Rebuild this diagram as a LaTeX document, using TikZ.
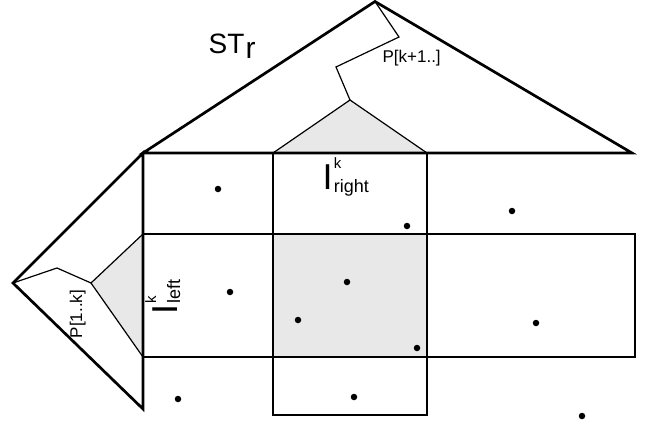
\documentclass[tikz,border=0pt]{standalone}
\usepackage{fontspec}
\setmainfont{Liberation Sans}
\usetikzlibrary{calc, positioning}
\definecolor{light gray}{HTML}{E8E8E8}

\begin{document}
\begin{tikzpicture}[x=1pt, y=-1pt, line width=1.2pt,
    bold/.style={line width=2.7pt, line join=miter},
    dot/.style={circle, fill=black, inner sep=0pt, minimum size=6.5pt},
    lab/.style={inner sep=0pt, anchor=base west}]
    \useasboundingbox (0,0) rectangle (649,423);
    \coordinate (apex) at (375,1.5);
    \coordinate (tl) at (143,153);
    \coordinate (tr) at (632,153);
    \coordinate (lapex) at (13,283);
    \coordinate (bl) at (143,409);
    \coordinate (qtop) at (350,100);
    \coordinate (qleft) at (91,283);
    \fill[light gray] (273,234) rectangle (427,357);
    \fill[light gray] (273,153) -- (qtop) -- (427,153) -- cycle;
    \fill[light gray] (143,234) -- (qleft) -- (143,357) -- cycle;
    \draw (143,234) rectangle (635,357);
    \draw (273,153) rectangle (427,415);
    \draw (273,153) -- (qtop) -- (427,153);
    \draw (143,234) -- (qleft) -- (143,357);
    \draw (apex) -- (399,37) -- (336,67) -- (qtop);
    \draw (lapex) -- (57,268) -- (qleft);
    \draw[bold] (tl) -- (apex) -- (tr) -- cycle;
    \draw[bold] (tl) -- (lapex) -- (bl) -- cycle;
    \foreach \x/\y [count=\i] in {218/189, 407/226, 512/211, 230/292, 347/282,
        298/320, 417/348, 354/397, 536/323, 582/416, 178/399}{
	\node[dot] (d\i) at (\x,\y) {};
	};
    \node[lab, font=\fontsize{28}{28}\selectfont] (st) at (208,53) {ST};
    \node[lab, font=\fontsize{30}{30}\selectfont] (str) at ($(st.base east)+(0,5)$) {r};
    \node[lab, font=\fontsize{17}{17}\selectfont] (pright) at (382,63) {P[k+1..]};
    \node[inner sep=0pt, anchor=base, rotate=90, font=\fontsize{17}{17}\selectfont] (pleft) at (82,314) {P[1..k]};
    \node[lab, font=\fontsize{36}{36}\selectfont] (iright) at (322,189) {I};
    \node[lab, font=\fontsize{15}{15}\selectfont] (kright) at ($(iright.base east)+(0,-21)$) {k};
    \node[lab, font=\fontsize{18}{18}\selectfont] (sright) at ($(iright.base east)+(0,3)$) {right};
    \node[lab, rotate=90, font=\fontsize{36}{36}\selectfont] (ileft) at (177,315) {I};
    \node[lab, rotate=90, font=\fontsize{15}{15}\selectfont] (kleft) at ($(ileft.base east)+(-21,0)$) {k};
    \node[lab, rotate=90, font=\fontsize{18}{18}\selectfont] (sleft) at ($(ileft.base east)+(3,0)$) {left};
    \end{tikzpicture}
\end{document}
